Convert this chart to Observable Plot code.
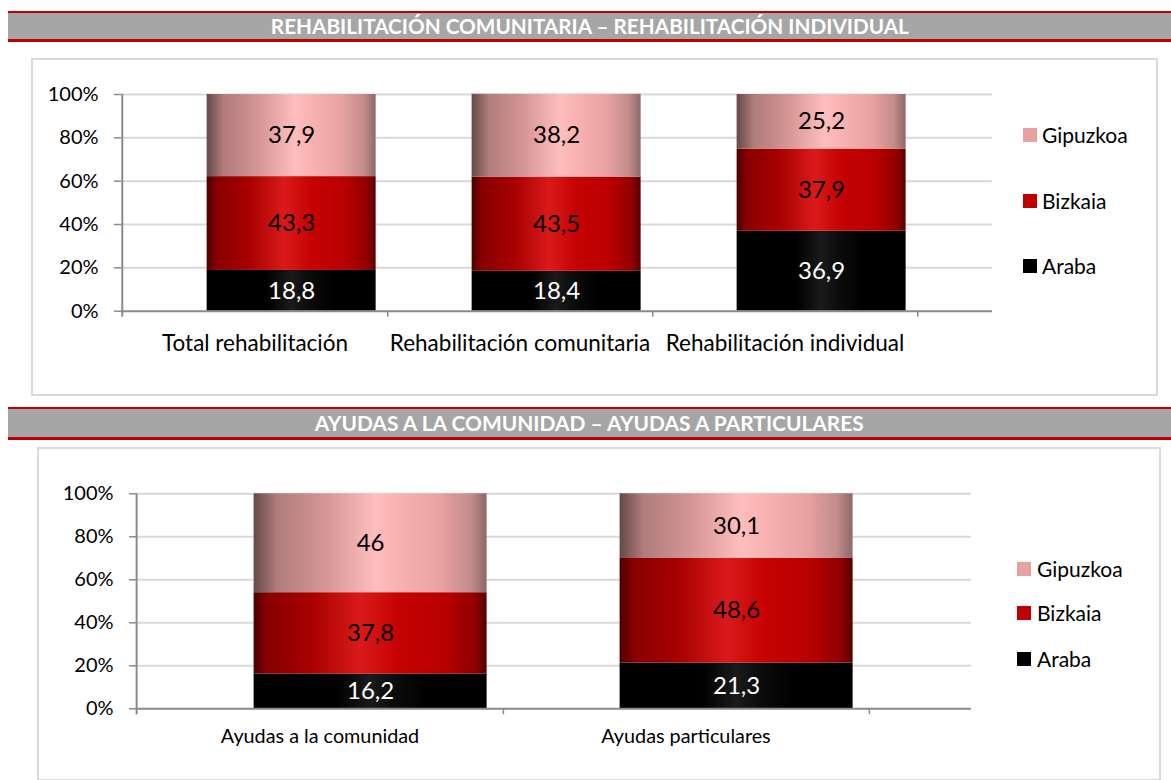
<!DOCTYPE html>
<html>
<head>
<meta charset="utf-8">
<script src="https://cdn.jsdelivr.net/npm/d3@7"></script>
<script src="https://cdn.jsdelivr.net/npm/@observablehq/plot@0.6"></script>
<style>
  html, body { margin: 0; padding: 0; }
  body { width: 1171px; height: 780px; position: relative; background: #fff; font-family: Lato, "Open Sans", sans-serif; overflow: hidden; }
  .hdr { position: absolute; left: 8px; right: 0; background: #a6a6a6; border-top: 2px solid #c00000; border-bottom: 3px solid #c00000; color: #fff; font-weight: bold; text-align: center; white-space: nowrap; overflow: hidden; }
  .hdr span { display: inline-block; font-size: 20px; transform-origin: center center; }
  .box { position: absolute; border: 2px solid #dadada; box-sizing: border-box; background: #fff; }
  .chart { position: absolute; left: 0; }
  .leg { position: absolute; font-size: 21px; color: #000; white-space: nowrap; line-height: 1; }
  .leg i { position: absolute; left: 0; width: 14px; height: 14px; }
  .leg b { position: absolute; font-weight: normal; }
</style>
</head>
<body>
<svg width="0" height="0" style="position:absolute">
  <defs>
    <linearGradient id="grad-Gipuzkoa" x1="0" x2="1" y1="0" y2="0">
      <stop offset="0" stop-color="#664848"/>
      <stop offset="0.1" stop-color="#b07c7c"/>
      <stop offset="0.3" stop-color="#d49494"/>
      <stop offset="0.52" stop-color="#ffbebe"/>
      <stop offset="0.6" stop-color="#fab4b4"/>
      <stop offset="0.8" stop-color="#e8a2a2"/>
      <stop offset="0.93" stop-color="#c48c8c"/>
      <stop offset="1" stop-color="#8e6868"/>
    </linearGradient>
    <linearGradient id="grad-Bizkaia" x1="0" x2="1" y1="0" y2="0">
      <stop offset="0" stop-color="#4a0000"/>
      <stop offset="0.06" stop-color="#880000"/>
      <stop offset="0.25" stop-color="#a80000"/>
      <stop offset="0.46" stop-color="#da1a1a"/>
      <stop offset="0.62" stop-color="#c60202"/>
      <stop offset="0.82" stop-color="#b80000"/>
      <stop offset="0.95" stop-color="#900000"/>
      <stop offset="1" stop-color="#5a0000"/>
    </linearGradient>
    <linearGradient id="grad-Araba" x1="0" x2="1" y1="0" y2="0">
      <stop offset="0" stop-color="#000"/>
      <stop offset="0.35" stop-color="#000"/>
      <stop offset="0.5" stop-color="#1a1a1a"/>
      <stop offset="0.6" stop-color="#0c0c0c"/>
      <stop offset="0.75" stop-color="#000"/>
      <stop offset="1" stop-color="#000"/>
    </linearGradient>
  </defs>
</svg>

<div class="hdr" id="h1" style="top:11px;height:26px;line-height:27px"><span></span></div>
<div class="box" style="left:31px;top:58px;width:1127px;height:338px"></div>
<div class="chart" id="c1" style="top:58px"></div>
<div id="l1"></div>

<div class="hdr" id="h2" style="top:407px;height:28px;line-height:29px"><span></span></div>
<div class="box" style="left:37px;top:447px;width:1124px;height:334px"></div>
<div class="chart" id="c2" style="top:447px"></div>
<div id="l2"></div>

<script>
// ---------------- DATA ----------------
const titles = ["REHABILITACIÓN COMUNITARIA – REHABILITACIÓN INDIVIDUAL", "AYUDAS A LA COMUNIDAD – AYUDAS A PARTICULARES"];
const series = ["Araba", "Bizkaia", "Gipuzkoa"];
const legendOrder = ["Gipuzkoa", "Bizkaia", "Araba"];
const legendColors = ["#e9a0a0", "#c00000", "#000000"];

const cats1 = ["Total rehabilitación", "Rehabilitación comunitaria", "Rehabilitación individual"];
const araba1 = [18.8, 18.4, 36.9];
const bizkaia1 = [43.3, 43.5, 37.9];
const gipuzkoa1 = [37.9, 38.2, 25.2];

const cats2 = ["Ayudas a la comunidad", "Ayudas particulares"];
const araba2 = [16.2, 21.3];
const bizkaia2 = [37.8, 48.6];
const gipuzkoa2 = [46, 30.1];

const yTicks = [0, 20, 40, 60, 80, 100];

// ---------------- HELPERS ----------------
const fmt = v => String(v).replace(".", ",");
function rowsOf(cats, a, b, g) {
  return cats.flatMap((c, i) => [
    {cat: c, county: "Araba", value: a[i]},
    {cat: c, county: "Bizkaia", value: b[i]},
    {cat: c, county: "Gipuzkoa", value: g[i]}
  ]);
}

function makeChart(o) {
  const rows = rowsOf(o.cats, o.a, o.b, o.g);
  const step = (o.xEnd - o.marginLeft) / o.cats.length;
  const shift = step * 0.138;
  const axisGray = "#8a8a8a";
  return Plot.plot({
    width: o.width,
    height: o.marginTop + o.plotH + o.marginBottom,
    marginLeft: o.marginLeft,
    marginRight: o.width - o.gridEnd,
    marginTop: o.marginTop,
    marginBottom: o.marginBottom,
    style: {fontFamily: "Lato, 'Open Sans', sans-serif", background: "transparent", overflow: "visible", color: "#000"},
    x: {domain: o.cats, range: [o.marginLeft, o.xEnd], paddingInner: 0.364, paddingOuter: 0.182, align: 0.5, axis: null},
    y: {domain: [0, 100], axis: null},
    color: {domain: series, range: series.map(s => `url(#grad-${s})`)},
    marks: [
      Plot.ruleY(yTicks.filter(t => t > 0), {stroke: "#d9d9d9", strokeWidth: 2}),
      Plot.barY(rows, Plot.stackY({x: "cat", y: "value", fill: "county", order: series, dx: shift})),
      Plot.text(rows, Plot.stackY({x: "cat", y: "value", z: "county", order: series,
        text: d => d.county === "Araba" ? "" : fmt(d.value), fill: "#000", fontSize: o.valueSize, dx: shift})),
      Plot.text(rows.filter(d => d.county === "Araba"), Plot.stackY({x: "cat", y: "value",
        text: d => fmt(d.value), fill: "#fff", fontSize: o.valueSize, dx: shift})),
      Plot.ruleY([0], {stroke: axisGray, strokeWidth: 2}),
      Plot.ruleX([o.cats[0]], {dx: -step / 2, y1: 100, y2: 0, insetBottom: -6, stroke: axisGray, strokeWidth: 2}),
      Plot.ruleX(o.cats, {dx: step / 2, y1: 0, y2: 0, insetBottom: -6, stroke: axisGray, strokeWidth: 1.5}),
      Plot.axisY(yTicks, {label: null, tickFormat: d => d + "%", tickSize: 7, tickPadding: 16, fontSize: o.tickSize, stroke: axisGray, strokeWidth: 1.5, fill: "#000"}),
      Plot.axisX(o.cats, {label: null, tickSize: 0, tickPadding: o.catPad, fontSize: o.catSize, fill: "#000", stroke: "none"})
    ]
  });
}

function makeLegend(el, o) {
  el.innerHTML = "";
  legendOrder.forEach((s, i) => {
    const d = document.createElement("div");
    d.className = "leg";
    d.style.left = o.left + "px";
    d.style.top = o.ys[i] + "px";
    const sw = document.createElement("i");
    sw.style.background = legendColors[i];
    sw.style.top = "-7px";
    const t = document.createElement("b");
    t.textContent = s;
    t.style.left = (o.textLeft - o.left) + "px";
    t.style.top = "-11px";
    d.appendChild(sw); d.appendChild(t);
    el.appendChild(d);
  });
}

// ---------------- TITLES ----------------
const targets = [638, 549];
["h1", "h2"].forEach((id, i) => {
  const sp = document.querySelector("#" + id + " span");
  sp.textContent = titles[i];
  const w = sp.getBoundingClientRect().width;
  sp.style.transform = `scaleX(${targets[i] / w})`;
});

// ---------------- CHARTS ----------------
document.getElementById("c1").appendChild(makeChart({
  cats: cats1, a: araba1, b: bizkaia1, g: gipuzkoa1,
  width: 1000, marginLeft: 121, xEnd: 917.5, gridEnd: 992,
  marginTop: 36, plotH: 216.7, marginBottom: 60,
  valueSize: 24, tickSize: 20, catSize: 22.5, catPad: 24
}));
document.getElementById("c2").appendChild(makeChart({
  cats: cats2, a: araba2, b: bizkaia2, g: gipuzkoa2,
  width: 980, marginLeft: 136, xEnd: 869.5, gridEnd: 971,
  marginTop: 46.3, plotH: 215, marginBottom: 60,
  valueSize: 24, tickSize: 20, catSize: 19.8, catPad: 20
}));

makeLegend(document.getElementById("l1"), {left: 1023, textLeft: 1042, ys: [135, 201, 266]});
makeLegend(document.getElementById("l2"), {left: 1017, textLeft: 1037, ys: [569, 613, 659]});
</script>
</body>
</html>
